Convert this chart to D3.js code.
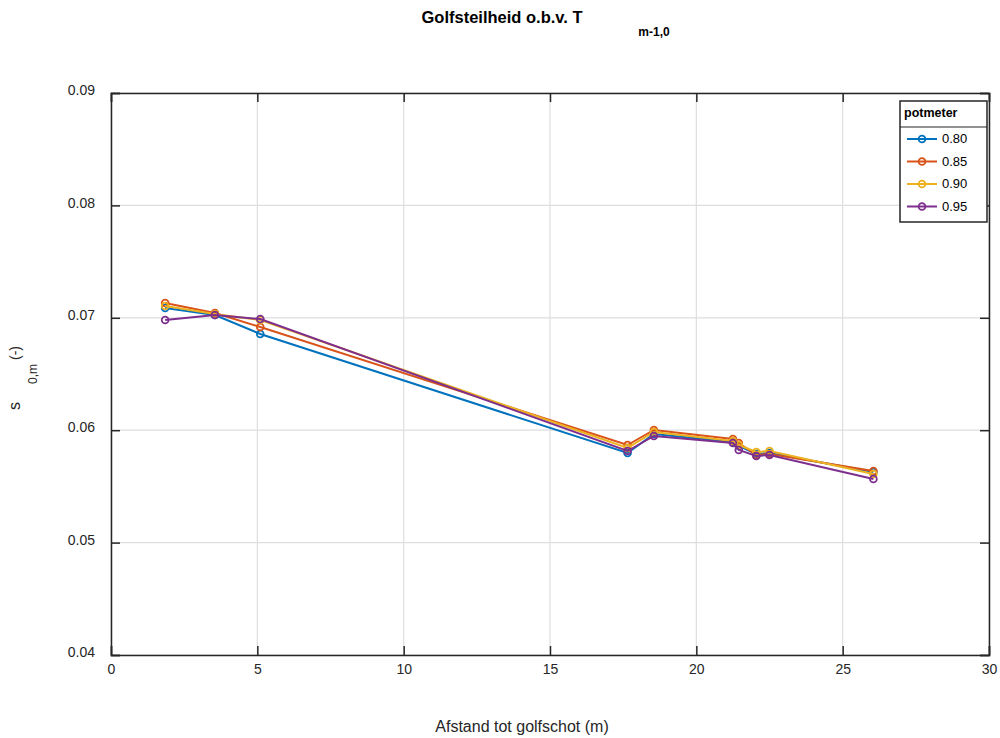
<!DOCTYPE html>
<html>
<head>
<meta charset="utf-8">
<script src="https://cdn.jsdelivr.net/npm/d3@7"></script>
<style>
html,body{margin:0;padding:0;background:#fff;}
svg{display:block;font-family:"Liberation Sans",Arial,Helvetica,sans-serif;}
</style>
</head>
<body>
<svg id="chart" width="1000" height="738"></svg>
<script>
const distances = [1.85, 3.55, 5.1, 17.65, 18.55, 21.25, 21.45, 22.05, 22.5, 26.05];
const seriesNames = ["0.80", "0.85", "0.90", "0.95"];
const s080 = [0.07087, 0.07025, 0.06856, 0.05797, 0.05966, 0.05895, 0.05860, 0.05788, 0.05797, 0.05628];
const s085 = [0.07132, 0.07043, 0.06918, 0.05868, 0.06002, 0.05922, 0.05886, 0.05779, 0.05788, 0.05637];
const s090 = [0.07105, 0.07034, 0.06980, 0.05842, 0.05984, 0.05904, 0.05868, 0.05806, 0.05815, 0.05610];
const s095 = [0.06980, 0.07025, 0.06989, 0.05815, 0.05949, 0.05886, 0.05824, 0.05770, 0.05779, 0.05566];
const colors = ["#0072BD", "#D95319", "#EDB120", "#7E2F8E"];
const xTicks = [0, 5, 10, 15, 20, 25, 30];
const yTicks = [0.04, 0.05, 0.06, 0.07, 0.08, 0.09];

const seriesValues = [s080, s085, s090, s095];
const svg = d3.select("#chart");
const L = 111, R = 989, T = 93, B = 655;
const x = d3.scaleLinear().domain([0, 30]).range([L, R]);
const y = d3.scaleLinear().domain([0.04, 0.09]).range([B, T]);
const axisColor = "#262626";

// grid
const g = svg.append("g");
g.selectAll("line.gx").data(xTicks).enter().append("line")
  .attr("x1", d => x(d)).attr("x2", d => x(d)).attr("y1", T).attr("y2", B)
  .attr("stroke", "#dedede").attr("stroke-width", 1.2);
g.selectAll("line.gy").data(yTicks).enter().append("line")
  .attr("x1", L).attr("x2", R).attr("y1", d => y(d)).attr("y2", d => y(d))
  .attr("stroke", "#dedede").attr("stroke-width", 1.2);

// axes
const xAxis = d3.axisBottom(x).tickValues(xTicks).tickSize(-9).tickPadding(9).tickFormat(d3.format("d"));
const yAxis = d3.axisLeft(y).tickValues(yTicks).tickSize(-9).tickPadding(16).tickFormat(d3.format(".2f"));
const xa = svg.append("g").attr("transform", `translate(0,${B})`).call(xAxis);
const ya = svg.append("g").attr("transform", `translate(${L},0)`).call(yAxis);
[xa, ya].forEach(a => {
  a.select(".domain").attr("stroke", axisColor).attr("stroke-width", 1.5);
  a.selectAll(".tick line").attr("stroke", axisColor).attr("stroke-width", 1.5);
  a.selectAll(".tick text").attr("fill", axisColor).attr("font-size", 14)
   .attr("font-family", "'Liberation Sans',Arial,sans-serif");
});
ya.selectAll(".tick text").attr("dy", "0.12em");
// top/right box with ticks
const xTop = d3.axisTop(x).tickValues(xTicks).tickSize(-9).tickFormat("");
const yRight = d3.axisRight(y).tickValues(yTicks).tickSize(-9).tickFormat("");
const xt = svg.append("g").attr("transform", `translate(0,${T})`).call(xTop);
const yr = svg.append("g").attr("transform", `translate(${R},0)`).call(yRight);
[xt, yr].forEach(a => {
  a.select(".domain").attr("stroke", axisColor).attr("stroke-width", 1.5);
  a.selectAll(".tick line").attr("stroke", axisColor).attr("stroke-width", 1.5);
});

// lines
const line = d3.line().x((d, i) => x(distances[i])).y(d => y(d));
seriesValues.forEach((vals, si) => {
  svg.append("path").datum(vals).attr("d", line)
    .attr("fill", "none").attr("stroke", colors[si]).attr("stroke-width", 2);
  svg.selectAll(null).data(vals).enter().append("circle")
    .attr("cx", (d, i) => x(distances[i])).attr("cy", d => y(d)).attr("r", 3.4)
    .attr("fill", "none").attr("stroke", colors[si]).attr("stroke-width", 1.8);
});

// title
svg.append("text").attr("x", 502).attr("y", 23).attr("text-anchor", "middle")
  .attr("font-weight", "bold").attr("font-size", 16.5).attr("fill", "#000")
  .text("Golfsteilheid o.b.v. T");
svg.append("text").attr("x", 654).attr("y", 36).attr("text-anchor", "middle")
  .attr("font-weight", "bold").attr("font-size", 12).attr("fill", "#000").text("m-1,0");

// x label
svg.append("text").attr("x", 522).attr("y", 732).attr("text-anchor", "middle")
  .attr("font-size", 16).attr("fill", axisColor).text("Afstand tot golfschot (m)");

// y label (rotated)
const yl = svg.append("g").attr("transform", "translate(20,410) rotate(-90)");
yl.append("text").attr("x", 0).attr("y", 0).attr("font-size", 16).attr("fill", axisColor).text("s");
yl.append("text").attr("x", 26).attr("y", 17).attr("font-size", 12).attr("fill", axisColor).text("0,m");
yl.append("text").attr("x", 50).attr("y", 0).attr("font-size", 14).attr("fill", axisColor).text("(-)");

// legend
const lg = svg.append("g");
const lx = 900, ly = 101, lw = 87, lh = 121;
lg.append("rect").attr("x", lx).attr("y", ly).attr("width", lw).attr("height", lh)
  .attr("fill", "#fff").attr("stroke", axisColor).attr("stroke-width", 1.5);
lg.append("line").attr("x1", lx).attr("x2", lx + lw).attr("y1", ly + 26).attr("y2", ly + 26)
  .attr("stroke", axisColor).attr("stroke-width", 1.2);
lg.append("text").attr("x", lx + 4).attr("y", ly + 16).attr("font-weight", "bold")
  .attr("font-size", 12.5).attr("fill", "#000").text("potmeter");
seriesNames.forEach((name, i) => {
  const yy = ly + 38 + i * 22.5;
  lg.append("line").attr("x1", lx + 7).attr("x2", lx + 37).attr("y1", yy).attr("y2", yy)
    .attr("stroke", colors[i]).attr("stroke-width", 2);
  lg.append("circle").attr("cx", lx + 22).attr("cy", yy).attr("r", 3.4)
    .attr("fill", "none").attr("stroke", colors[i]).attr("stroke-width", 1.8);
  lg.append("text").attr("x", lx + 42).attr("y", yy + 4).attr("font-size", 13)
    .attr("fill", "#000").text(name);
});
</script>
</body>
</html>
